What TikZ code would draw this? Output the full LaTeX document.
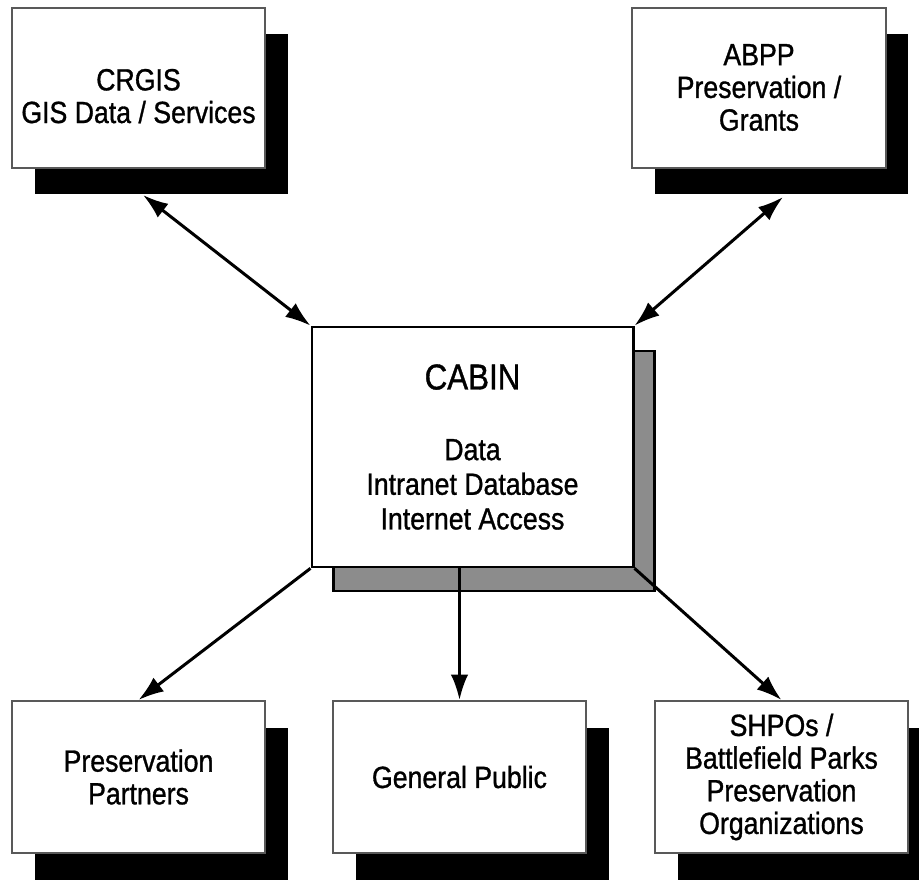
\documentclass[tikz,border=0pt]{standalone}
\usepackage{fontspec}
\setmainfont[FakeStretch=0.87, FakeBold=1]{Liberation Sans}
\usetikzlibrary{arrows.meta,shadows}

\begin{document}
\begin{tikzpicture}[x=0.75pt, y=-0.75pt,
    box/.style={draw=black!65, line width=1.5pt, fill=white, align=center,
        minimum width=190pt, minimum height=120pt, inner sep=0pt,
        font=\fontsize{23}{24.5}\selectfont,
        general shadow={shadow xshift=17pt, shadow yshift=-20pt, fill=black}},
    lowbox/.style={box, minimum height=114pt},
    hub/.style={draw=black, line width=2pt, fill=white, align=center,
        minimum width=241pt, minimum height=180pt, inner sep=0pt,
        font=\fontsize{23}{26}\selectfont,
        general shadow={shadow xshift=16pt, shadow yshift=-18pt, fill=black!45,
            draw=black, line width=2pt}},
    link/.style={line width=2.25pt, -{Latex[length=19pt,width=13pt]}},
    both/.style={link, {Latex[length=19pt,width=13pt]}-{Latex[length=19pt,width=13pt]}}]
        \useasboundingbox (0, 0) rectangle (919, 879);

        \node (crgis) at (138.5, 87.5) [box] {\rule{0pt}{29pt}CRGIS\\ GIS Data / Services};
        \node (abpp) at (759, 87.5) [box] {ABPP\\ Preservation /\\ Grants};

        \node (cabin) at (472.5, 447) [hub] {{\fontsize{27}{30}\selectfont CABIN}\\[27pt] Data\\ Intranet Database\\ Internet Access};

        \node (partners) at (138.5, 777) [lowbox] {Preservation\\ Partners};
        \node (public) at (459.5, 777) [lowbox] {General Public};
        \node (shpos) at (781.5, 777) [lowbox] {SHPOs /\\ Battlefield Parks\\ Preservation\\ Organizations};

        \coordinate (crgis-tip) at (143, 195);
        \coordinate (abpp-tip) at (783, 197);

        \draw [both] (crgis-tip) -- (cabin.north west);
        \draw [both] (abpp-tip) -- (cabin.north east);

        \draw [link] (cabin.south west) -- (partners.north);
        \draw [link] (cabin.south -| public.north) -- (public.north);
        \draw [link] (cabin.south east) -- (shpos.north);
    \end{tikzpicture}
\end{document}
